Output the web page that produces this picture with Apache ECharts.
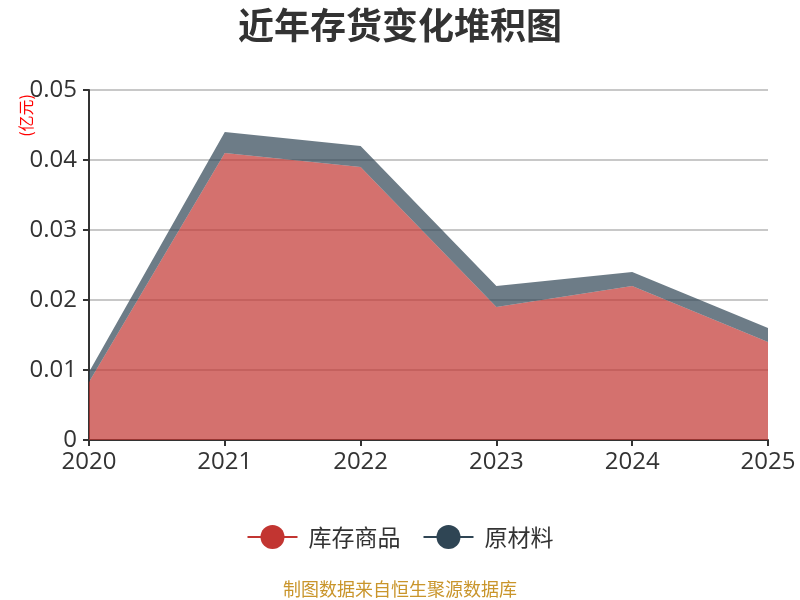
<!DOCTYPE html>
<html lang="zh">
<head>
    <meta charset="UTF-8">
    <title>近年存货变化堆积图</title>
    <script src="https://cdn.jsdelivr.net/npm/echarts@6/dist/echarts.min.js"></script>
</head>
<body style="margin:0">
    <div id="main" style="width:800px; height:600px;"></div>
    <script>
        // 数据
        var years = ['2020', '2021', '2022', '2023', '2024', '2025'];
        var kucun = [0.0083, 0.041, 0.039, 0.019, 0.022, 0.014];   // 库存商品
        var yuancailiao = [0.0014, 0.003, 0.003, 0.003, 0.002, 0.002]; // 原材料
        var yTicks = [0, 0.01, 0.02, 0.03, 0.04, 0.05];

        var myChart = echarts.init(document.getElementById('main'));
        var font = '"Open Sans", "Noto Sans CJK SC", sans-serif';
        var cjk = '"Noto Sans CJK SC", sans-serif';

        var option = {
            textStyle: { fontFamily: font },
            color: ['#c23531', '#2f4554'],
            title: {
                text: '近年存货变化堆积图',
                left: 'center',
                top: 2,
                textStyle: { fontSize: 36, fontWeight: 'bold', color: '#333', fontFamily: cjk }
            },
            legend: {
                bottom: 46,
                itemWidth: 50,
                itemHeight: 30,
                itemGap: 22,
                lineStyle: { width: 2 },
                textStyle: { fontSize: 23, color: '#333', fontFamily: cjk, padding: [0, 0, 0, 6] },
                data: ['库存商品', '原材料']
            },
            graphic: [
                {
                    type: 'text',
                    left: 'center',
                    bottom: 2,
                    style: { text: '制图数据来自恒生聚源数据库', fill: '#c9952b', fontSize: 18, fontFamily: cjk }
                },
                {
                    type: 'text',
                    left: 18,
                    top: 94,
                    rotation: Math.PI / 2,
                    style: { text: '(亿元)', fill: '#ff0000', fontSize: 16, fontFamily: cjk }
                }
            ],
            grid: { left: 89, right: 32, top: 90, bottom: 160 },
            xAxis: {
                type: 'category',
                boundaryGap: false,
                data: years,
                axisLine: { lineStyle: { color: '#333', width: 2 } },
                axisTick: { show: true, length: 6, lineStyle: { color: '#333', width: 2 } },
                axisLabel: { fontSize: 24, color: '#333', margin: 10 }
            },
            yAxis: {
                type: 'value',
                min: yTicks[0],
                max: yTicks[yTicks.length - 1],
                interval: 0.01,
                axisLine: { show: true, lineStyle: { color: '#333', width: 2 } },
                axisTick: { show: true, length: 6, lineStyle: { color: '#333', width: 2 } },
                axisLabel: { fontSize: 24, color: '#333', margin: 12 },
                splitLine: { lineStyle: { color: '#c8c8c8', width: 2 } }
            },
            series: [
                {
                    name: '库存商品',
                    type: 'line',
                    stack: 'total',
                    data: kucun,
                    showSymbol: false,
                    symbol: 'circle',
                    symbolSize: 10,
                    lineStyle: { width: 0 },
                    areaStyle: { opacity: 0.7 }
                },
                {
                    name: '原材料',
                    type: 'line',
                    stack: 'total',
                    data: yuancailiao,
                    showSymbol: false,
                    symbol: 'circle',
                    symbolSize: 10,
                    lineStyle: { width: 0 },
                    areaStyle: { opacity: 0.7 }
                }
            ]
        };
        myChart.setOption(option);
    </script>
</body>
</html>
